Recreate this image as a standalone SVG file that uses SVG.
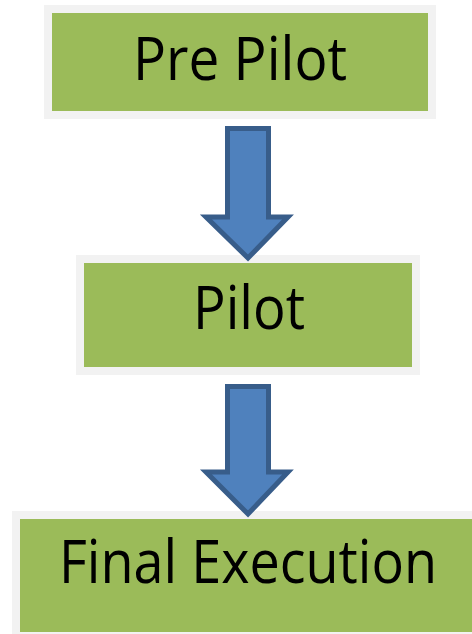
<svg xmlns="http://www.w3.org/2000/svg" width="472" height="634" viewBox="0 0 472 634">
<style>
.frame{fill:#f2f2f2}
.box{fill:#9bbb59}
.lbl{font-family:"Open Sans","Noto Sans",sans-serif;font-size:61px;fill:#000;text-anchor:middle}
.arrow{fill:#4f81bd;stroke:#385d8a;stroke-width:5;stroke-linejoin:miter}
</style>
<rect width="472" height="634" fill="#ffffff"/>
<g id="node-prepilot">
<rect class="frame" x="44" y="5" width="392" height="114"/>
<rect class="box" x="52" y="13" width="376" height="98"/>
<text class="lbl" x="240" y="80" textLength="214" lengthAdjust="spacingAndGlyphs">Pre Pilot</text>
</g>
<g id="node-pilot">
<rect class="frame" x="76" y="255" width="344" height="120"/>
<rect class="box" x="84" y="263" width="328" height="104"/>
<text class="lbl" x="249" y="329" textLength="112" lengthAdjust="spacingAndGlyphs">Pilot</text>
</g>
<g id="node-final">
<rect class="frame" x="12" y="511" width="460" height="123"/>
<rect class="box" x="20" y="519" width="452" height="113"/>
<text class="lbl" x="248" y="583" textLength="378" lengthAdjust="spacingAndGlyphs">Final Execution</text>
</g>
<g id="connectors">
<path class="arrow" d="M227.5,128.5 H268.5 V217 H288 L248,258 L206,217 H227.5 Z"/>
<path class="arrow" d="M227.5,386.5 H268.5 V472 H288 L248,514 L206,472 H227.5 Z"/>
</g>
</svg>
